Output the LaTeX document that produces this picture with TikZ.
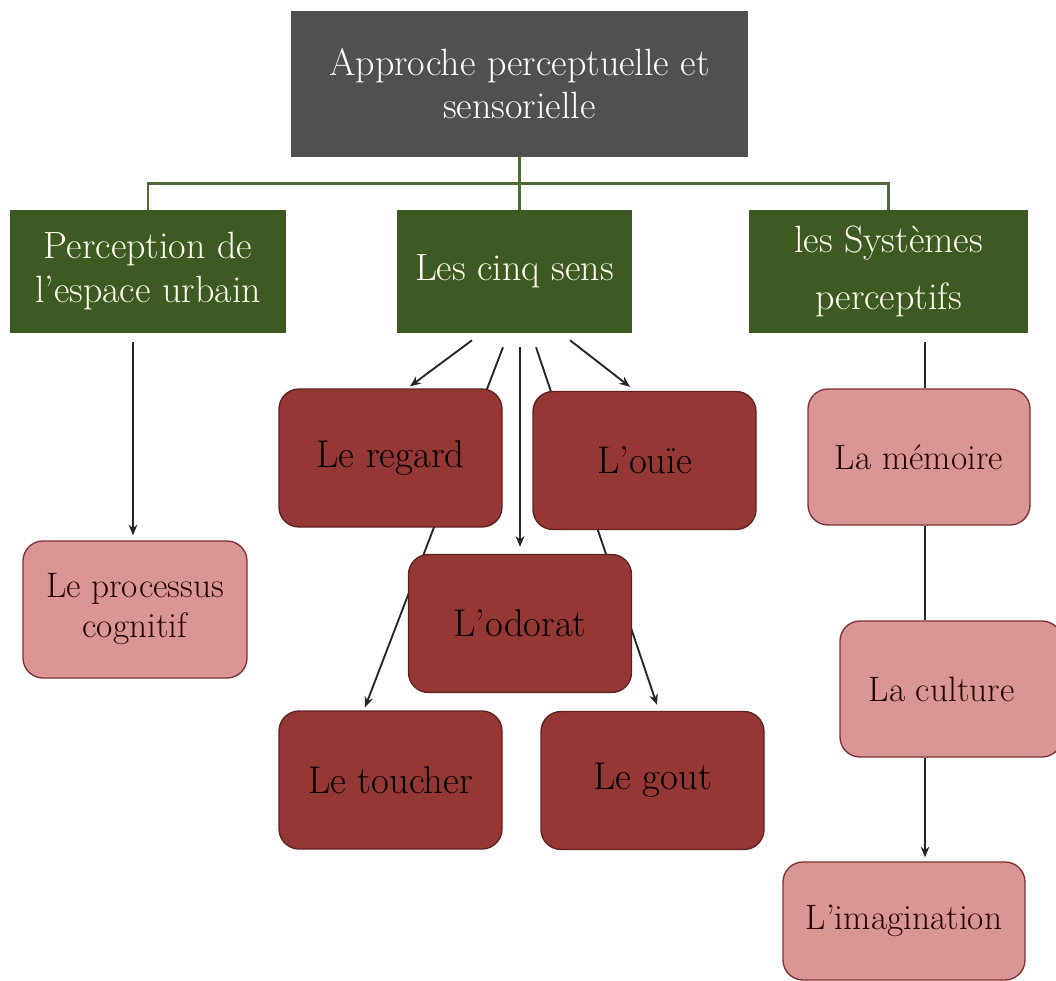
\documentclass[tikz,border=0pt]{standalone}
\usetikzlibrary{arrows.meta,calc,backgrounds}
\definecolor{topgray}{HTML}{505050}
\definecolor{olive}{HTML}{3C5A22}
\definecolor{darkred}{HTML}{953735}
\definecolor{redborder}{HTML}{5E2120}
\definecolor{pinkfill}{HTML}{D99694}
\definecolor{pinkborder}{HTML}{7F3230}
\tikzset{
  topbox/.style={fill=topgray, text=white, minimum width=342.75pt, minimum height=109.5pt, inner sep=0pt, align=center, font=\fontsize{28.5}{32}\selectfont},
  greenbox/.style={fill=olive, text=white!94!yellow, minimum height=92.25pt, inner sep=0pt, align=center, font=\fontsize{28.5}{33}\selectfont},
  redbox/.style={fill=darkred, draw=redborder, line width=1pt, rounded corners=15pt, minimum width=167.25pt, minimum height=103.5pt, inner sep=0pt, align=center, text=black, font=\fontsize{29}{34}\selectfont},
  pinkbox/.style={fill=pinkfill, draw=pinkborder, line width=1pt, rounded corners=15pt, minimum height=102pt, inner sep=0pt, align=center, text=black!85!red, font=\fontsize{26.5}{30}\selectfont},
  greenline/.style={draw=olive!90!white, line width=2.2pt},
  conn/.style={draw=black!85, line width=1.4pt},
  arr/.style={conn, -{Stealth[length=8pt,width=6.5pt]}}
}
\begin{document}
\begin{tikzpicture}[x=0.75pt,y=-0.75pt]
\useasboundingbox (0,0) rectangle (1056,981);
% nodes
\node[topbox] (top) at (519.5,84) {Approche perceptuelle et\\sensorielle};
\node[greenbox, minimum width=207pt] (percep) at (148,271.5) {Perception de\\l’espace urbain};
\node[greenbox, minimum width=176.25pt] (cinq) at (514.5,271.5) {Les cinq sens};
\node[greenbox, minimum width=209.25pt] (sys) at (888.5,271.5) {les Systèmes\\[10pt]perceptifs};
\node[pinkbox, minimum width=168pt, minimum height=102.75pt] (proc) at (135,609.5) {Le processus\\cognitif};
\node[redbox] (regard) at (390.5,458) {Le regard};
\node[redbox] (ouie) at (644.5,460.5) {L’ouïe};
\node[redbox] (odorat) at (520,623.5) {L’odorat};
\node[redbox] (toucher) at (390.5,780) {Le toucher};
\node[redbox] (gout) at (652.5,780.5) {Le gout};
\node[pinkbox, minimum width=166.5pt] (memoire) at (919,457) {La mémoire};
\node[pinkbox, minimum width=166.5pt] (culture) at (951,689) {\hspace*{-14pt}La culture};
\node[pinkbox, minimum width=181.5pt, minimum height=88.5pt] (imag) at (904,921) {L’imagination};
% connectors
\begin{pgfonlayer}{background}
\draw[greenline] (top.south) -- (top.south |- cinq.north);
\draw[greenline] (percep.north) -- ++(0,-26) -| (sys.north);
\draw[arr] ($(percep.south)+(-15,9)$) -- ($(proc.north)+(-2,-5)$);
\draw[arr] ($(cinq.south)+(-42.5,7)$) -- ($(regard.north)+(19.5,-2)$);
\draw[arr] ($(cinq.south)+(-11.5,14)$) -- ($(toucher.north)+(-25.5,-3)$);
\draw[arr] ($(cinq.south)+(5.5,14)$) -- ($(odorat.north)+(0,-7)$);
\draw[arr] ($(cinq.south)+(21.5,14)$) -- ($(gout.north)+(4.5,-6)$);
\draw[arr] ($(cinq.south)+(55.5,7)$) -- ($(ouie.north)+(-14.5,-4)$);
\draw[conn] ($(sys.south)+(36.5,9)$) -- ($(memoire.north)+(6,0)$);
\draw[conn] ($(memoire.south)+(6,0)$) -- ($(culture.north)+(-26,0)$);
\draw[arr] ($(culture.south)+(-26,0)$) -- ($(imag.north)+(21,-4)$);
\end{pgfonlayer}
\end{tikzpicture}
\end{document}
